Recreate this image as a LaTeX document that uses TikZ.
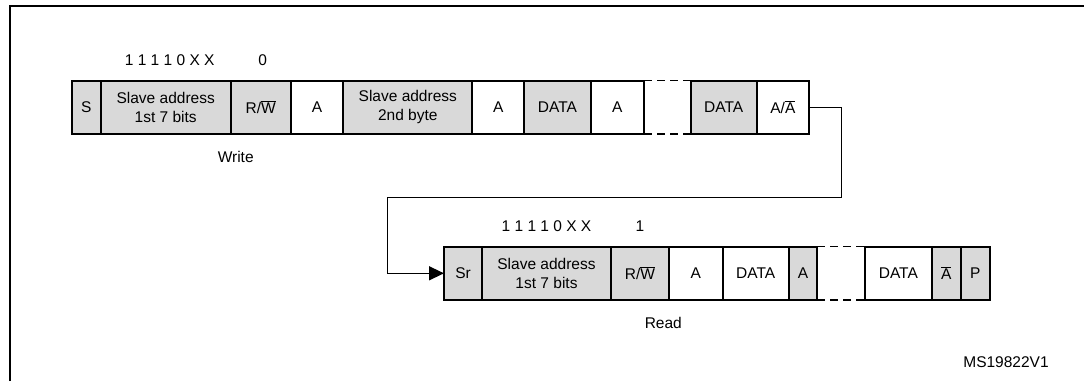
\documentclass[tikz,border=0pt]{standalone}
\usepackage{fontspec}
\setmainfont{Liberation Sans}
\usetikzlibrary{arrows.meta,positioning}
\definecolor{boxgrey}{HTML}{D9D9D9}
\newcommand{\ovl}[1]{$\overline{\mbox{#1}}$}

\begin{document}
\begin{tikzpicture}[x=1pt,y=-1pt,
  font=\fontsize{15.5}{19}\selectfont,
  fieldbox/.style={draw,line width=2pt,minimum height=53.3pt,inner sep=0pt,outer sep=0pt,align=center},
  gbox/.style={fieldbox,fill=boxgrey},
  wbox/.style={fieldbox,fill=white},
  gapline/.style={line width=1.3pt,dash pattern=on 8pt off 5pt},
  bits/.style={inner sep=0pt}]
  \useasboundingbox (0,0) rectangle (1084,381);
  \draw[line width=2pt] (9.5,381) -- (9.5,6) -- (1084,6);

  % write frame
  \node[gbox,minimum width=29pt,anchor=west] (ws) at (71.7,107.3) {S};
  \node[gbox,minimum width=130pt,right=0pt of ws] (wadr1) {Slave address\\1st 7 bits};
  \node[gbox,minimum width=60pt,right=0pt of wadr1] (wrw) {R/\ovl{W}};
  \node[wbox,minimum width=52.6pt,right=0pt of wrw] (wa1) {A};
  \node[gbox,minimum width=129pt,right=0pt of wa1] (wadr2) {Slave address\\2nd byte};
  \node[wbox,minimum width=52pt,right=0pt of wadr2] (wa2) {A};
  \node[gbox,minimum width=66.4pt,right=0pt of wa2] (wdata1) {DATA};
  \node[wbox,minimum width=53.3pt,right=0pt of wdata1] (wa3) {A};
  \node[gbox,minimum width=66pt,right=46.7pt of wa3] (wdata2) {DATA};
  \node[wbox,minimum width=52.3pt,right=0pt of wdata2] (wack) {A/\ovl{A}};
  \draw[gapline] (wa3.north east) -- (wdata2.north west);
  \draw[gapline] (wa3.south east) -- (wdata2.south west);

  \node[bits,above=15pt of wadr1,xshift=4pt] (wbits) {1 1 1 1 0 X X};
  \node[bits,above=15pt of wrw,xshift=2pt] (wdir) {0};
  \node (write) at (235.7,156.7) {Write};

  % read frame
  \node[gbox,minimum width=38.3pt,anchor=west] (rsr) at (444,273.3) {Sr};
  \node[gbox,minimum width=128.4pt,right=0pt of rsr] (radr) {Slave address\\1st 7 bits};
  \node[gbox,minimum width=58.6pt,right=0pt of radr] (rrw) {R/\ovl{W}};
  \node[wbox,minimum width=53.2pt,right=0pt of rrw] (ra1) {A};
  \node[wbox,minimum width=66.5pt,right=0pt of ra1] (rdata1) {DATA};
  \node[gbox,minimum width=28.3pt,right=0pt of rdata1] (ra2) {A};
  \node[wbox,minimum width=66.7pt,right=47.7pt of ra2] (rdata2) {DATA};
  \node[gbox,minimum width=29pt,right=0pt of rdata2] (rnack) {\ovl{A}};
  \node[gbox,minimum width=29.3pt,right=0pt of rnack] (rp) {P};
  \draw[gapline] (ra2.north east) -- (rdata2.north west);
  \draw[gapline] (ra2.south east) -- (rdata2.south west);

  \node[bits,above=15pt of radr] (rbits) {1 1 1 1 0 X X};
  \node[bits,above=15pt of rrw] (rdir) {1};
  \node (read) at (663.3,322.7) {Read};

  % restart link
  \coordinate (c1) at (841.7,197.5);
  \coordinate (c2) at (387.3,197.5);
  \draw[line width=1.4pt,-{Triangle[length=15pt,width=14pt]}] (wack.east) -| (c1) -- (c2) |- (rsr.west);

  \node (msid) at (1006,362) {MS19822V1};
\end{tikzpicture}
\end{document}
